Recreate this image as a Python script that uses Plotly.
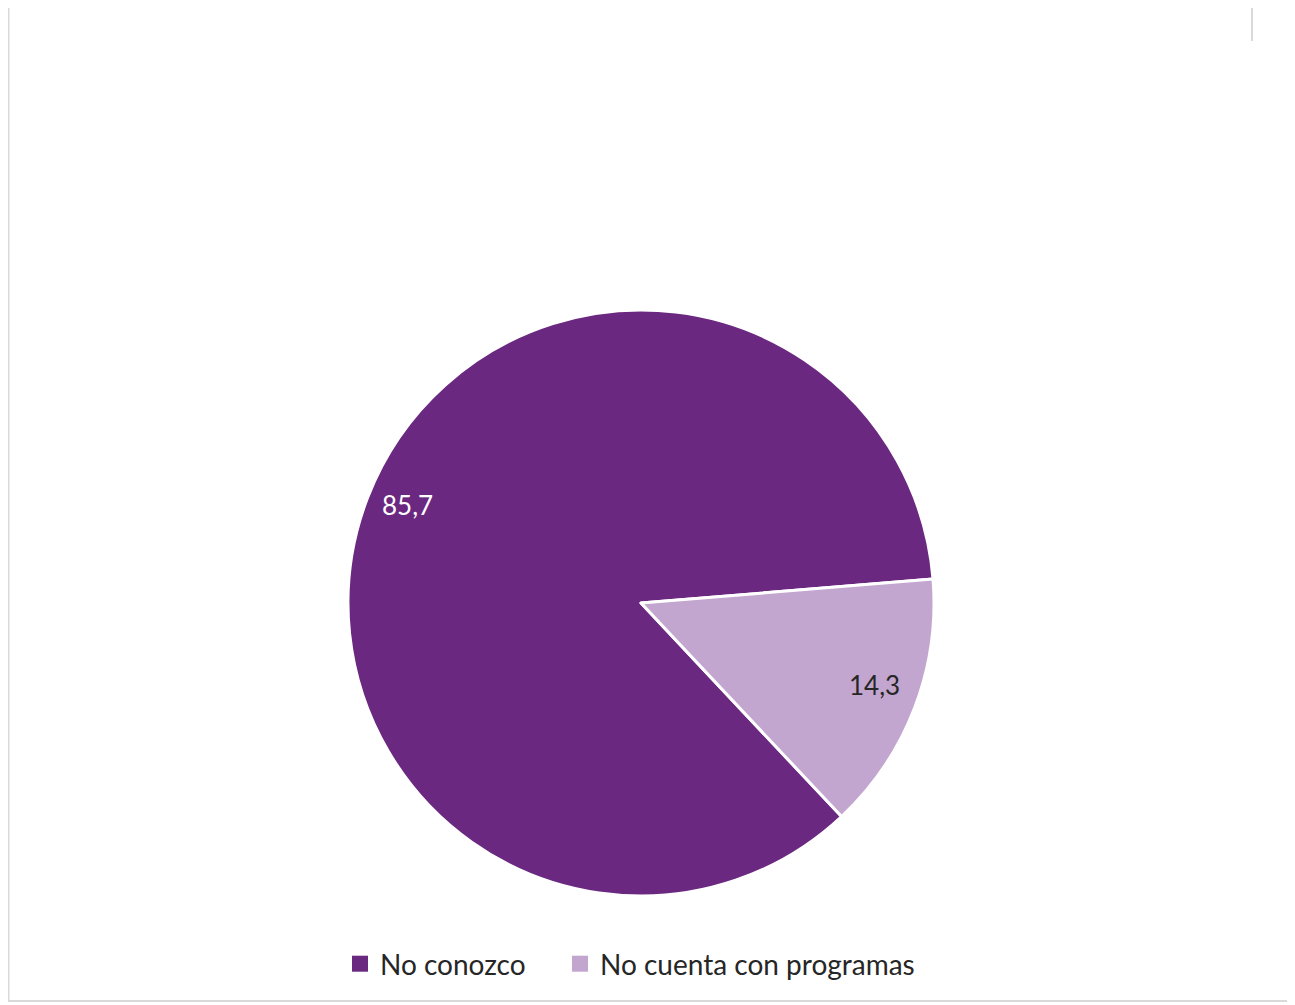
import math
import plotly.graph_objects as go

categories = ["No conozco", "No cuenta con programas"]
values = [85.7, 14.3]
value_labels = ["85,7", "14,3"]
colors = ["#6B2880", "#C3A6CF"]
label_colors = ["#FFFFFF", "#262626"]

W, H = 1295, 1005
OFF = 8  # page body margin
cx, cy, R = 641 - OFF, 603 - OFF, 293
rotation = 136.8

x0, x1 = (cx - R) / W, (cx + R) / W
y0, y1 = 1 - (cy + R) / H, 1 - (cy - R) / H

fig = go.Figure()
fig.add_trace(go.Pie(
    labels=categories,
    values=values,
    sort=False,
    direction="clockwise",
    rotation=rotation,
    marker=dict(colors=colors, line=dict(color="white", width=3)),
    textinfo="none",
    hoverinfo="label+value",
    domain=dict(x=[x0, x1], y=[y0, y1]),
    showlegend=False,
))

# legend entries with square swatches (one legend box per entry for Excel-like spacing)
legend_ids = ["legend", "legend2"]
for cat, col, lid in zip(categories, colors, legend_ids):
    fig.add_trace(go.Scatter(
        x=[None], y=[None], mode="markers", name=cat,
        marker=dict(symbol="square", size=17, color=col),
        hoverinfo="skip", legend=lid,
    ))

total = sum(values)
start = 90 - rotation
annotations = []
for v, lab, col in zip(values, value_labels, label_colors):
    span = v / total * 360
    mid = math.radians(start - span / 2)
    start -= span
    px = cx + 0.855 * R * math.cos(mid)
    py = cy - 0.855 * R * math.sin(mid)
    annotations.append(dict(
        x=px / W, y=1 - py / H, xref="paper", yref="paper",
        xanchor="center", yanchor="middle", yshift=8,
        text=lab, showarrow=False,
        font=dict(family="Lato, sans-serif", size=26, color=col),
    ))

border = "#D9D9D9"
shapes = [
    dict(type="line", xref="paper", yref="paper", x0=0.5/W, x1=0.5/W, y0=1, y1=1-(1001-OFF)/H, line=dict(color=border, width=2)),
    dict(type="line", xref="paper", yref="paper", x0=0, x1=(1293-OFF)/W, y0=1-(1001-OFF)/H, y1=1-(1001-OFF)/H, line=dict(color=border, width=2)),
    dict(type="line", xref="paper", yref="paper", x0=(1293-OFF)/W, x1=(1293-OFF)/W, y0=1-(40-OFF)/H, y1=1-(1001-OFF)/H, line=dict(color=border, width=2)),
    dict(type="line", xref="paper", yref="paper", x0=(1252-OFF)/W, x1=(1252-OFF)/W, y0=1, y1=1-(41-OFF)/H, line=dict(color=border, width=2)),
]

leg_font = dict(family="Lato, sans-serif", size=28, color="#262626")
leg_y = 1 - (964 - OFF) / H

fig.update_layout(
    width=W, height=H,
    margin=dict(l=0, r=0, t=0, b=0),
    paper_bgcolor="white",
    plot_bgcolor="white",
    font=dict(family="Lato, sans-serif", size=28, color="#262626"),
    xaxis=dict(visible=False),
    yaxis=dict(visible=False),
    showlegend=True,
    legend=dict(
        orientation="h", x=(340 - OFF) / W, xanchor="left",
        y=leg_y, yanchor="middle", font=leg_font, bgcolor="rgba(0,0,0,0)",
    ),
    legend2=dict(
        orientation="h", x=(560 - OFF) / W, xanchor="left",
        y=leg_y, yanchor="middle", font=leg_font, bgcolor="rgba(0,0,0,0)",
    ),
    annotations=annotations,
    shapes=shapes,
)

fig.write_html("out.html")
